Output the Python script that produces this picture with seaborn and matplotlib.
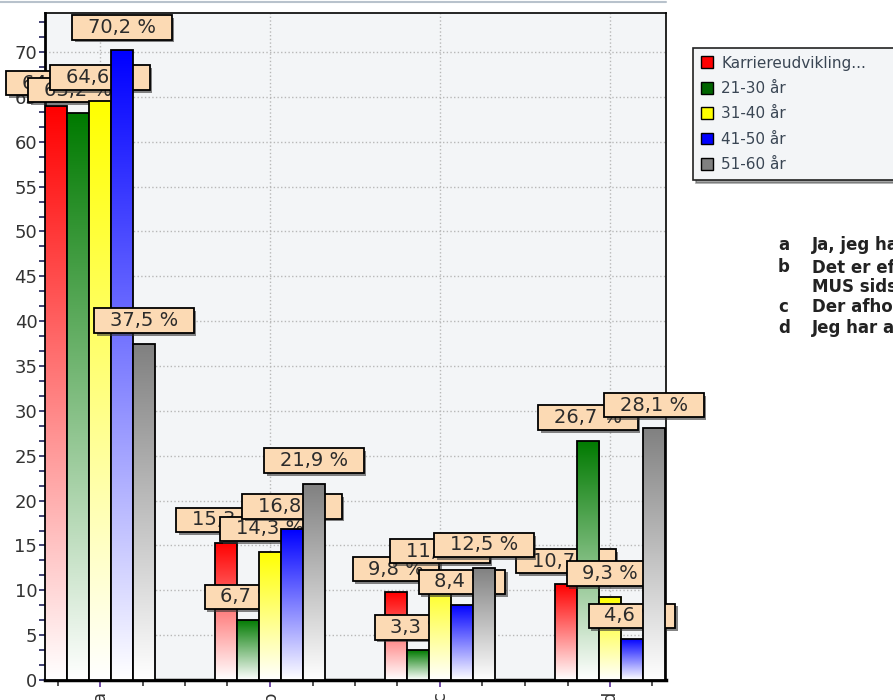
import matplotlib
matplotlib.use("Agg")
import numpy as np
import pandas as pd
import seaborn as sns
import matplotlib.pyplot as plt
from matplotlib.path import Path
from matplotlib.ticker import MultipleLocator
from matplotlib.patches import Patch
from matplotlib.lines import Line2D
import matplotlib.patheffects as pe
from matplotlib.colors import to_rgb

# ---------------- data ----------------
categories = ["a", "b", "c", "d"]
series = ["Karriereudvikling...", "21-30 år", "31-40 år", "41-50 år", "51-60 år"]
karriere = [64.0, 15.3, 9.8, 10.7]
aar_21_30 = [63.2, 6.7, 3.3, 26.7]
aar_31_40 = [64.6, 14.3, 11.8, 9.3]
aar_41_50 = [70.2, 16.8, 8.4, 4.6]
aar_51_60 = [37.5, 21.9, 12.5, 28.1]
colors = ["#ff0000", "#007a00", "#ffff00", "#0000ff", "#808080"]
legend_colors = ["#ff0000", "#006400", "#ffff00", "#0000ff", "#808080"]
notes = [("a", "Ja, jeg har haft MUS"),
         ("b", "Det er efterhånden længe siden jeg har haft"),
         ("", "MUS sidst"),
         ("c", "Der afholdes ikke MUS"),
         ("d", "Jeg har aldrig haft MUS")]

values = [karriere, aar_21_30, aar_31_40, aar_41_50, aar_51_60]
df = pd.DataFrame([{"cat": c, "series": s, "val": v}
                   for s, vals in zip(series, values)
                   for c, v in zip(categories, vals)])

# ---------------- style ----------------
sns.set_theme(style="white")
plt.rcParams["font.family"] = ["DejaVu Sans"]

W, H = 893, 700
fig = plt.figure(figsize=(W / 100, H / 100), dpi=100)
fig.patch.set_facecolor("white")
ax = fig.add_axes([45 / W, 20 / H, 621 / W, 667 / H])
ax.set_facecolor("#f3f5f7")

sns.barplot(data=df, x="cat", y="val", hue="series", order=categories,
            hue_order=series, palette=colors, saturation=1,
            width=110 / 170, gap=0, dodge=True, edgecolor="black",
            linewidth=1.3, errorbar=None, legend=False, ax=ax)


def labelbox(x0, y0, width, height, mutation_size):
    px = 0.8 * mutation_size
    py = 0.14 * mutation_size
    verts = [(x0 - px, y0 - py), (x0 + width + px, y0 - py),
             (x0 + width + px, y0 + height + py), (x0 - px, y0 + height + py),
             (x0 - px, y0 - py)]
    codes = [Path.MOVETO, Path.LINETO, Path.LINETO, Path.LINETO, Path.CLOSEPOLY]
    return Path(verts, codes)


t = np.linspace(0, 1, 256)[:, None]
for i, cont in enumerate(ax.containers):
    base = 3 + i
    rgb = np.array(to_rgb(colors[i]))
    grad = 1 - t[:, :, None] * (1 - rgb[None, None, :])
    grad = np.concatenate([grad, np.ones((256, 1, 1))], axis=2)
    for bar in cont:
        x0, w, h = bar.get_x(), bar.get_width(), bar.get_height()
        bar.set_facecolor("none")
        bar.set_zorder(base + 0.1)
        img = ax.imshow(grad, extent=[x0, x0 + w, 0, h], origin="lower",
                        aspect="auto", interpolation="bilinear",
                        zorder=base)
        img.set_clip_path(bar)
        txt = f"{h:.1f} %".replace(".", ",")
        ann = ax.annotate(txt, xy=(x0 + w / 2, h), xytext=(0, 16.5),
                          textcoords="offset points", ha="center",
                          va="center", fontsize=14, color="#2b2b2b",
                          zorder=base + 0.5, annotation_clip=False,
                          bbox=dict(boxstyle=labelbox, fc="#fcdab4",
                                    ec="black", lw=1.3))
        ann.get_bbox_patch().set_path_effects(
            [pe.SimplePatchShadow(offset=(2, -2), shadow_rgbFace="#333333",
                                  alpha=0.6), pe.Normal()])

ax.set_xlim(-55 / 170, 3 + 55 / 170 + 1 / 170)
ax.set_ylim(0, 667 / 8.97)

# grid
ax.set_axisbelow(True)
ax.yaxis.set_major_locator(MultipleLocator(5))
ax.yaxis.set_minor_locator(MultipleLocator(5 / 3))
ax.set_xticks(range(len(categories)))
ax.xaxis.set_minor_locator(MultipleLocator(0.25))
ax.grid(True, which="major", axis="both", ls=":", color="#b8b8b8", lw=1)

ax.set_xticklabels(categories, rotation=90, fontsize=13, color="#333333")
ax.tick_params(axis="y", which="major", left=True, length=4, width=1.2,
               color="#20205a", pad=1.5, labelsize=13, labelcolor="#333333")
ax.tick_params(axis="y", which="minor", left=True, length=4, width=1.2,
               color="#20205a")
ax.tick_params(axis="x", which="major", bottom=True, length=5, width=1.2,
               color="#5a2d9a", pad=3)
ax.tick_params(axis="x", which="minor", bottom=True, length=4, width=1.2,
               color="#333333")
ax.set_xlabel("")
ax.set_ylabel("")

for side, lw in [("left", 2), ("bottom", 2.5), ("top", 1.2), ("right", 1.2)]:
    ax.spines[side].set_visible(True)
    ax.spines[side].set_color("black")
    ax.spines[side].set_linewidth(lw)

# legend
handles = [Patch(facecolor=c, edgecolor="black", lw=1) for c in legend_colors]
leg = fig.legend(handles, series, loc="upper left",
                 bbox_to_anchor=(693 / W, 1 - 48 / H, 235 / W, 0),
                 mode="expand", fontsize=11, labelcolor="#3a4654",
                 frameon=True, fancybox=False, shadow=True,
                 facecolor="#f3f5f7", edgecolor="#222222", framealpha=1,
                 handlelength=0.8, handleheight=0.8, handletextpad=0.55,
                 labelspacing=0.68, borderpad=0.5, borderaxespad=0)
leg.get_frame().set_linewidth(1.2)

# notes on the right
ys = [245, 267, 287, 307, 328]
for (letter, text), y in zip(notes, ys):
    if letter:
        fig.text(778 / W, 1 - y / H, letter, fontsize=12, fontweight="bold",
                 color="#222222", va="center", ha="left")
    fig.text(812 / W, 1 - y / H, text, fontsize=12, fontweight="bold",
             color="#222222", va="center", ha="left")

# thin line at the very top
fig.add_artist(Line2D([0, 666 / W], [1 - 1.5 / H, 1 - 1.5 / H],
                      transform=fig.transFigure, color="#b8c2cc", lw=1.5))

fig.savefig("out.png", dpi=100)
